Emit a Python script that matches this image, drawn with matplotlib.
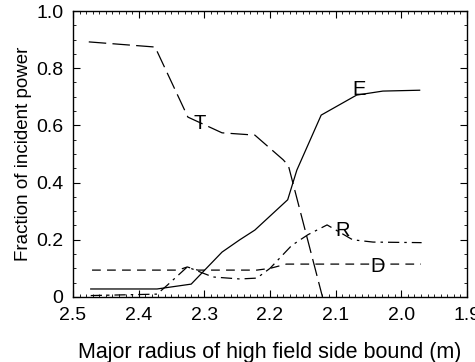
import matplotlib
matplotlib.use("Agg")
from matplotlib import pyplot as plt
from matplotlib.ticker import MultipleLocator, FuncFormatter

plt.rcParams['font.family'] = ['Liberation Sans', 'DejaVu Sans']

# curve data (x = major radius in m)
t_x = [2.476, 2.375, 2.325, 2.273, 2.223, 2.180, 2.172, 2.12]
t_y = [0.892, 0.874, 0.629, 0.574, 0.566, 0.48, 0.46, 0.0]

e_x = [2.473, 2.372, 2.320, 2.273, 2.246, 2.223, 2.173, 2.159, 2.122, 2.068, 2.028, 1.972]
e_y = [0.028, 0.028, 0.045, 0.157, 0.20, 0.234, 0.34, 0.444, 0.636, 0.706, 0.72, 0.723]

r_x = [2.473, 2.372, 2.357, 2.326, 2.287, 2.246, 2.22, 2.20, 2.167, 2.142, 2.113, 2.074, 2.043, 1.969]
r_y = [0.005, 0.01, 0.04, 0.105, 0.07, 0.063, 0.066, 0.10, 0.18, 0.218, 0.252, 0.20, 0.192, 0.19]

d_x = [2.471, 2.34, 2.326, 2.31, 2.22, 2.20, 2.175, 1.97]
d_y = [0.094, 0.094, 0.105, 0.094, 0.094, 0.10, 0.115, 0.115]

labels = {'T': (2.307, 0.608), 'E': (2.064, 0.727), 'R': (2.090, 0.234), 'D': (2.036, 0.105)}

fig = plt.figure(figsize=(4.75, 3.62), dpi=100)
ax = fig.add_axes([0.1537, 0.1796, 0.8293, 0.79])

lw = 0.9
ax.plot(t_x, t_y, color='k', lw=lw, linestyle=(0, (14, 5)))
ax.plot(e_x, e_y, color='k', lw=lw, linestyle='-')
ax.plot(r_x, r_y, color='k', lw=lw, linestyle=(0, (9, 4, 2, 4)))
ax.plot(d_x, d_y, color='k', lw=lw, linestyle=(0, (7, 5)))

for name, (x, y) in labels.items():
    ax.text(x, y, name, fontsize=14.5, ha='center', va='center')

ax.set_xlim(2.5, 1.9)
ax.set_ylim(0, 1.0)
ax.xaxis.set_major_locator(MultipleLocator(0.1))
ax.xaxis.set_minor_locator(MultipleLocator(0.01))
ax.yaxis.set_major_locator(MultipleLocator(0.2))
ax.yaxis.set_minor_locator(MultipleLocator(0.05))
ax.yaxis.set_major_formatter(FuncFormatter(lambda v, p: '0' if abs(v) < 1e-9 else '%.1f' % v))
ax.xaxis.set_major_formatter(FuncFormatter(lambda v, p: '%.1f' % v))
ax.tick_params(which='both', direction='in', top=True, right=True, labelsize=14)
ax.tick_params(which='major', length=5, width=0.8)
ax.tick_params(which='minor', length=2.5, width=0.6)
ax.tick_params(axis='x', pad=7)
ax.tick_params(axis='y', pad=7)
for s in ax.spines.values():
    s.set_linewidth(1.0)

ax.set_xlabel("Major radius of high field side bound (m)", fontsize=15.5, labelpad=13)
ax.set_ylabel("Fraction of incident power", fontsize=13.5, labelpad=3)

plt.savefig('out.png', dpi=100)
